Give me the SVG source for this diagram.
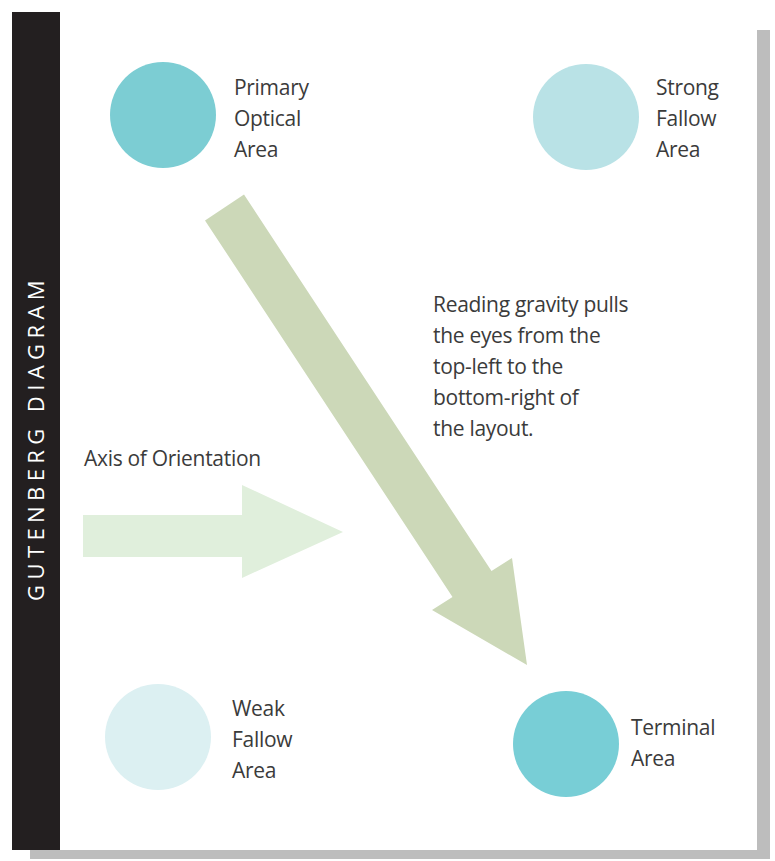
<svg xmlns="http://www.w3.org/2000/svg" width="775" height="861" viewBox="0 0 775 861">
<style>
.lbl{font-family:"Open Sans","Liberation Sans",sans-serif;font-size:21px;letter-spacing:-0.3px;fill:#3b3b3b}
.side{font-family:"Open Sans","Liberation Sans",sans-serif;font-size:22px;fill:#ffffff;letter-spacing:5.4px}
</style>
<rect x="0" y="0" width="775" height="861" fill="#ffffff"/>
<g id="frame">
<rect x="757" y="30" width="13" height="829" fill="#bdbdbd"/>
<rect x="30" y="850" width="740" height="9" fill="#bdbdbd"/>
<rect x="12" y="12" width="48" height="838" fill="#231f20"/>
<text class="side" transform="translate(44,438) rotate(-90)" text-anchor="middle">GUTENBERG DIAGRAM</text>
</g>
<g id="connectors">
<polygon id="gravity-arrow" points="205,220.4 244,194.6 491.5,571.1 512,558 527,665 432,610 452.5,596.9" fill="#ccd8b8"/>
<polygon id="axis-arrow" points="83,515 242,515 242,485 343,532 242,578 242,557 83,557" fill="#e0efdc"/>
</g>
<g id="primary">
<circle cx="163" cy="115" r="53" fill="#7ccdd3"/>
<text class="lbl" x="234" y="95">Primary</text>
<text class="lbl" x="234" y="126">Optical</text>
<text class="lbl" x="234" y="157">Area</text>
</g>
<g id="strong">
<circle cx="586" cy="117" r="53" fill="#b9e2e6"/>
<text class="lbl" x="656" y="95">Strong</text>
<text class="lbl" x="656" y="126">Fallow</text>
<text class="lbl" x="656" y="157">Area</text>
</g>
<g id="weak">
<circle cx="158" cy="737" r="53" fill="#dcf0f2"/>
<text class="lbl" x="232" y="716">Weak</text>
<text class="lbl" x="232" y="747">Fallow</text>
<text class="lbl" x="232" y="778">Area</text>
</g>
<g id="terminal">
<circle cx="566" cy="744" r="53" fill="#78ced6"/>
<text class="lbl" x="631" y="735">Terminal</text>
<text class="lbl" x="631" y="766">Area</text>
</g>
<g id="gravity-note">
<text class="lbl" x="433" y="312">Reading gravity pulls</text>
<text class="lbl" x="433" y="343">the eyes from the</text>
<text class="lbl" x="433" y="374">top-left to the</text>
<text class="lbl" x="433" y="405">bottom-right of</text>
<text class="lbl" x="433" y="436">the layout.</text>
</g>
<g id="axis-label">
<text class="lbl" x="84" y="466">Axis of Orientation</text>
</g>
</svg>
